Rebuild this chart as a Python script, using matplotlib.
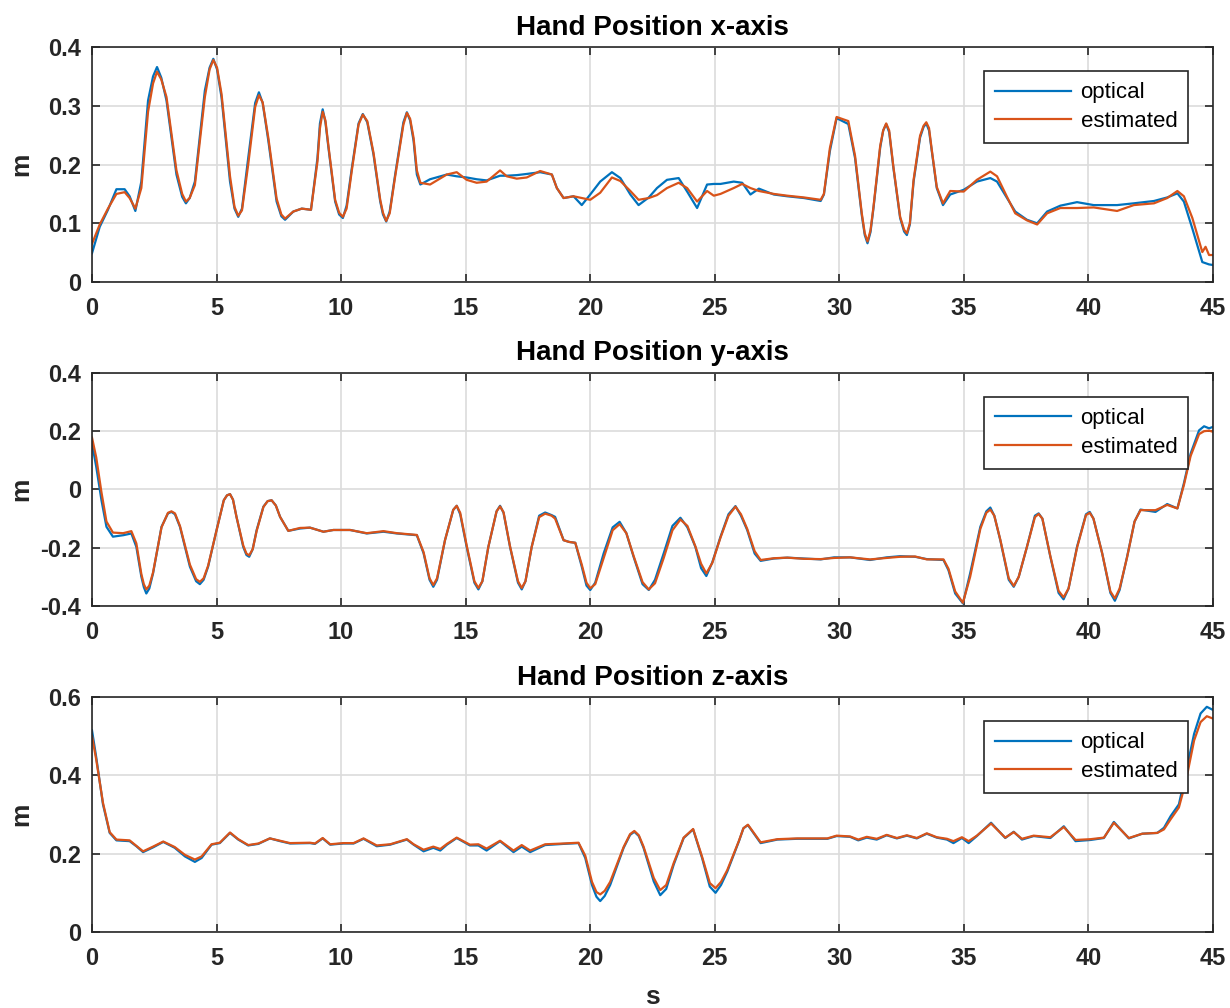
import matplotlib
matplotlib.use("Agg")
import matplotlib.pyplot as plt

# ---- data (time in s, position in m) ----
t_x = [0.00, 0.31, 0.64, 0.98, 1.31, 1.51, 1.74, 1.98, 2.25, 2.45, 2.61, 2.78, 2.99, 3.39, 3.62,
       3.77, 3.92, 4.13, 4.53, 4.72, 4.87, 5.02, 5.20, 5.54, 5.72, 5.87, 6.02, 6.27, 6.55, 6.70,
       6.85, 7.08, 7.41, 7.60, 7.75, 8.08, 8.42, 8.79, 9.05, 9.15, 9.26, 9.37, 9.49, 9.76, 9.92,
       10.07, 10.22, 10.43, 10.70, 10.87, 11.05, 11.30, 11.57, 11.68, 11.81, 11.95, 12.17, 12.50,
       12.64, 12.77, 12.91, 13.04, 13.18, 13.57, 14.24, 14.64, 15.04, 15.44, 15.84, 16.38, 16.65,
       17.05, 17.45, 17.99, 18.46, 18.66, 18.93, 19.33, 19.66, 20.00, 20.40, 20.87, 21.21, 21.61,
       21.94, 22.35, 22.68, 23.08, 23.55, 23.89, 24.29, 24.69, 24.96, 25.23, 25.76, 26.10, 26.43,
       26.77, 27.37, 27.91, 28.58, 29.25, 29.38, 29.62, 29.89, 30.36, 30.63, 30.90, 31.02, 31.13,
       31.25, 31.37, 31.64, 31.76, 31.88, 32.00, 32.17, 32.44, 32.60, 32.71, 32.83, 32.98, 33.24,
       33.38, 33.49, 33.60, 33.71, 33.91, 34.16, 34.45, 34.99, 35.52, 36.06, 36.33, 36.73, 37.06,
       37.53, 37.94, 38.34, 38.87, 39.54, 40.21, 41.15, 41.82, 42.63, 43.16, 43.57, 43.83, 44.17,
       44.57, 44.70, 44.84, 45.00]
x_optical = [0.049, 0.094, 0.123, 0.158, 0.158, 0.146, 0.121, 0.171, 0.309, 0.350, 0.366, 0.348,
             0.309, 0.183, 0.145, 0.134, 0.143, 0.171, 0.326, 0.365, 0.380, 0.362, 0.314, 0.171,
             0.125, 0.111, 0.125, 0.211, 0.305, 0.323, 0.305, 0.240, 0.137, 0.112, 0.106, 0.120,
             0.125, 0.123, 0.211, 0.270, 0.294, 0.272, 0.229, 0.137, 0.115, 0.109, 0.130, 0.194,
             0.270, 0.286, 0.272, 0.217, 0.137, 0.115, 0.103, 0.120, 0.183, 0.272, 0.289, 0.275,
             0.240, 0.183, 0.166, 0.175, 0.183, 0.180, 0.178, 0.175, 0.173, 0.181, 0.181, 0.182,
             0.184, 0.187, 0.183, 0.160, 0.143, 0.146, 0.131, 0.149, 0.171, 0.187, 0.177, 0.149,
             0.131, 0.144, 0.160, 0.174, 0.177, 0.154, 0.126, 0.166, 0.167, 0.167, 0.171, 0.169,
             0.149, 0.159, 0.149, 0.146, 0.143, 0.138, 0.149, 0.223, 0.279, 0.269, 0.211, 0.114,
             0.080, 0.066, 0.085, 0.126, 0.229, 0.258, 0.269, 0.255, 0.194, 0.109, 0.086, 0.080,
             0.098, 0.171, 0.246, 0.264, 0.270, 0.258, 0.223, 0.160, 0.131, 0.149, 0.157, 0.171,
             0.177, 0.171, 0.143, 0.120, 0.106, 0.100, 0.120, 0.130, 0.136, 0.131, 0.131, 0.134,
             0.138, 0.144, 0.151, 0.137, 0.091, 0.034, 0.032, 0.030, 0.029]
x_estimated = [0.065, 0.098, 0.125, 0.150, 0.153, 0.143, 0.125, 0.160, 0.290, 0.338, 0.358, 0.345,
               0.315, 0.190, 0.150, 0.137, 0.143, 0.165, 0.315, 0.362, 0.378, 0.365, 0.320, 0.180,
               0.128, 0.113, 0.122, 0.200, 0.298, 0.318, 0.306, 0.245, 0.142, 0.115, 0.108, 0.120,
               0.125, 0.123, 0.205, 0.262, 0.290, 0.275, 0.232, 0.140, 0.118, 0.111, 0.125, 0.190,
               0.268, 0.285, 0.274, 0.220, 0.140, 0.118, 0.104, 0.117, 0.180, 0.268, 0.288, 0.278,
               0.245, 0.190, 0.169, 0.166, 0.183, 0.187, 0.174, 0.169, 0.171, 0.190, 0.180, 0.176,
               0.178, 0.189, 0.183, 0.160, 0.143, 0.146, 0.143, 0.140, 0.152, 0.178, 0.172, 0.155,
               0.140, 0.143, 0.148, 0.160, 0.169, 0.160, 0.137, 0.155, 0.147, 0.150, 0.160, 0.167,
               0.160, 0.155, 0.150, 0.147, 0.144, 0.140, 0.150, 0.228, 0.281, 0.274, 0.215, 0.117,
               0.083, 0.069, 0.088, 0.128, 0.232, 0.258, 0.270, 0.258, 0.196, 0.111, 0.089, 0.083,
               0.100, 0.174, 0.249, 0.266, 0.272, 0.262, 0.225, 0.162, 0.134, 0.155, 0.154, 0.174,
               0.188, 0.180, 0.145, 0.117, 0.105, 0.098, 0.117, 0.126, 0.126, 0.127, 0.121, 0.131,
               0.134, 0.143, 0.155, 0.146, 0.109, 0.051, 0.060, 0.046, 0.046]

t_y = [0.00, 0.17, 0.38, 0.58, 0.84, 1.25, 1.58, 1.78, 1.98, 2.08, 2.18, 2.30, 2.45, 2.79, 3.05,
       3.19, 3.33, 3.53, 3.93, 4.18, 4.33, 4.48, 4.66, 5.00, 5.29, 5.42, 5.54, 5.66, 5.80, 6.07,
       6.20, 6.31, 6.45, 6.61, 6.88, 7.05, 7.21, 7.38, 7.55, 7.88, 8.35, 8.75, 9.29, 9.69, 10.36,
       11.03, 11.70, 12.24, 13.04, 13.31, 13.55, 13.70, 13.85, 14.17, 14.50, 14.64, 14.78, 15.04,
       15.35, 15.51, 15.67, 15.91, 16.24, 16.38, 16.52, 16.78, 17.10, 17.25, 17.40, 17.65, 17.95,
       18.19, 18.45, 18.59, 18.93, 19.15, 19.40, 19.66, 19.85, 20.00, 20.20, 20.54, 20.90, 21.18,
       21.45, 21.74, 22.10, 22.35, 22.60, 22.95, 23.30, 23.62, 23.90, 24.22, 24.45, 24.66, 24.90,
       25.23, 25.55, 25.83, 26.05, 26.30, 26.60, 26.84, 27.37, 27.91, 28.58, 29.25, 29.79, 30.43,
       31.23, 31.90, 32.44, 33.04, 33.51, 34.18, 34.38, 34.65, 34.96, 35.25, 35.66, 35.90, 36.06,
       36.22, 36.46, 36.80, 37.00, 37.20, 37.53, 37.85, 38.00, 38.15, 38.47, 38.80, 39.00, 39.20,
       39.54, 39.90, 40.05, 40.20, 40.55, 40.88, 41.06, 41.25, 41.55, 41.85, 42.09, 42.69, 43.16,
       43.57, 43.83, 44.10, 44.44, 44.64, 44.84, 45.00]
y_optical = [0.158, 0.078, -0.037, -0.128, -0.162, -0.157, -0.151, -0.197, -0.299, -0.335, -0.357,
             -0.340, -0.288, -0.128, -0.082, -0.077, -0.085, -0.128, -0.265, -0.315, -0.325, -0.310,
             -0.265, -0.139, -0.037, -0.020, -0.016, -0.035, -0.094, -0.197, -0.225, -0.231, -0.205,
             -0.139, -0.059, -0.040, -0.037, -0.055, -0.094, -0.142, -0.134, -0.131, -0.145, -0.139,
             -0.139, -0.151, -0.145, -0.151, -0.157, -0.219, -0.310, -0.334, -0.310, -0.174, -0.070,
             -0.056, -0.085, -0.197, -0.320, -0.343, -0.315, -0.197, -0.075, -0.056, -0.080, -0.197,
             -0.320, -0.343, -0.315, -0.197, -0.090, -0.079, -0.088, -0.094, -0.174, -0.180, -0.183,
             -0.265, -0.330, -0.345, -0.320, -0.219, -0.130, -0.111, -0.150, -0.231, -0.325, -0.345,
             -0.310, -0.219, -0.125, -0.097, -0.130, -0.197, -0.270, -0.297, -0.250, -0.162, -0.085,
             -0.057, -0.090, -0.139, -0.220, -0.245, -0.237, -0.234, -0.237, -0.240, -0.233, -0.233,
             -0.242, -0.233, -0.229, -0.231, -0.239, -0.242, -0.277, -0.357, -0.391, -0.288, -0.128,
             -0.075, -0.062, -0.090, -0.174, -0.310, -0.334, -0.300, -0.197, -0.090, -0.082, -0.100,
             -0.231, -0.355, -0.377, -0.340, -0.197, -0.085, -0.077, -0.100, -0.219, -0.355, -0.382,
             -0.345, -0.231, -0.110, -0.069, -0.077, -0.050, -0.065, 0.021, 0.123, 0.203, 0.217,
             0.210, 0.215]
y_estimated = [0.178, 0.110, -0.010, -0.110, -0.148, -0.150, -0.143, -0.185, -0.290, -0.325, -0.343,
               -0.330, -0.285, -0.130, -0.080, -0.075, -0.082, -0.125, -0.258, -0.308, -0.317, -0.305,
               -0.262, -0.140, -0.037, -0.020, -0.016, -0.035, -0.094, -0.192, -0.220, -0.226, -0.205,
               -0.142, -0.060, -0.040, -0.037, -0.055, -0.094, -0.142, -0.132, -0.131, -0.145, -0.139,
               -0.139, -0.150, -0.143, -0.150, -0.156, -0.215, -0.305, -0.328, -0.305, -0.174, -0.070,
               -0.056, -0.080, -0.192, -0.315, -0.338, -0.315, -0.197, -0.075, -0.058, -0.078, -0.195,
               -0.315, -0.338, -0.315, -0.197, -0.095, -0.083, -0.090, -0.100, -0.174, -0.180, -0.183,
               -0.258, -0.320, -0.339, -0.325, -0.235, -0.140, -0.119, -0.150, -0.228, -0.318, -0.343,
               -0.322, -0.235, -0.140, -0.103, -0.125, -0.195, -0.255, -0.288, -0.252, -0.165, -0.090,
               -0.059, -0.085, -0.135, -0.212, -0.242, -0.236, -0.234, -0.238, -0.239, -0.235, -0.233,
               -0.240, -0.235, -0.231, -0.230, -0.240, -0.240, -0.272, -0.350, -0.389, -0.300, -0.135,
               -0.080, -0.069, -0.090, -0.172, -0.305, -0.331, -0.300, -0.197, -0.095, -0.084, -0.100,
               -0.229, -0.348, -0.370, -0.340, -0.200, -0.088, -0.080, -0.100, -0.219, -0.350, -0.374,
               -0.340, -0.233, -0.110, -0.071, -0.071, -0.053, -0.065, 0.015, 0.115, 0.190, 0.200,
               0.202, 0.198]

t_z = [0.00, 0.17, 0.44, 0.71, 0.98, 1.51, 1.78, 2.05, 2.45, 2.86, 3.32, 3.73, 4.13, 4.40, 4.80,
       5.13, 5.54, 5.87, 6.27, 6.68, 7.14, 7.55, 7.95, 8.75, 8.95, 9.26, 9.56, 10.09, 10.50, 10.90,
       11.43, 11.97, 12.64, 12.91, 13.31, 13.70, 13.98, 14.25, 14.64, 15.17, 15.51, 15.84, 16.38,
       16.92, 17.25, 17.59, 18.19, 18.93, 19.53, 19.80, 20.07, 20.25, 20.40, 20.58, 20.80, 21.34,
       21.60, 21.77, 21.95, 22.14, 22.55, 22.81, 23.05, 23.35, 23.75, 24.13, 24.49, 24.80, 25.03,
       25.25, 25.50, 25.97, 26.15, 26.33, 26.84, 27.51, 28.31, 29.52, 29.89, 30.43, 30.76, 31.10,
       31.50, 31.90, 32.31, 32.71, 33.11, 33.51, 33.91, 34.32, 34.58, 34.92, 35.19, 35.52, 36.09,
       36.66, 37.00, 37.33, 37.80, 38.47, 39.01, 39.48, 40.08, 40.62, 41.02, 41.62, 42.16, 42.76,
       43.03, 43.30, 43.63, 43.90, 44.24, 44.50, 44.75, 45.00]
z_optical = [0.515, 0.446, 0.326, 0.253, 0.234, 0.232, 0.219, 0.204, 0.216, 0.230, 0.215, 0.193,
             0.179, 0.189, 0.223, 0.227, 0.253, 0.236, 0.221, 0.225, 0.239, 0.232, 0.226, 0.227,
             0.225, 0.239, 0.223, 0.226, 0.226, 0.238, 0.219, 0.223, 0.236, 0.223, 0.206, 0.215,
             0.208, 0.223, 0.240, 0.221, 0.221, 0.208, 0.232, 0.204, 0.218, 0.204, 0.222, 0.225,
             0.227, 0.189, 0.120, 0.090, 0.079, 0.092, 0.120, 0.215, 0.248, 0.256, 0.245, 0.215,
             0.129, 0.094, 0.110, 0.172, 0.240, 0.262, 0.189, 0.116, 0.100, 0.120, 0.154, 0.232,
             0.265, 0.273, 0.227, 0.236, 0.238, 0.238, 0.245, 0.243, 0.234, 0.241, 0.236, 0.247,
             0.239, 0.246, 0.239, 0.251, 0.241, 0.236, 0.227, 0.240, 0.227, 0.245, 0.279, 0.240,
             0.256, 0.236, 0.245, 0.240, 0.270, 0.232, 0.235, 0.240, 0.281, 0.239, 0.251, 0.253,
             0.266, 0.296, 0.326, 0.403, 0.506, 0.558, 0.575, 0.567]
z_estimated = [0.500, 0.440, 0.330, 0.255, 0.236, 0.234, 0.220, 0.206, 0.218, 0.231, 0.217, 0.197,
               0.185, 0.193, 0.224, 0.228, 0.254, 0.237, 0.222, 0.226, 0.239, 0.233, 0.227, 0.228,
               0.226, 0.240, 0.224, 0.227, 0.227, 0.239, 0.221, 0.224, 0.237, 0.224, 0.210, 0.218,
               0.212, 0.225, 0.241, 0.223, 0.224, 0.213, 0.233, 0.208, 0.222, 0.208, 0.224, 0.226,
               0.228, 0.195, 0.128, 0.102, 0.096, 0.105, 0.128, 0.217, 0.250, 0.258, 0.247, 0.218,
               0.138, 0.107, 0.120, 0.176, 0.241, 0.263, 0.192, 0.125, 0.112, 0.128, 0.158, 0.233,
               0.265, 0.274, 0.229, 0.237, 0.239, 0.239, 0.246, 0.244, 0.236, 0.243, 0.238, 0.248,
               0.240, 0.247, 0.240, 0.252, 0.242, 0.238, 0.232, 0.242, 0.232, 0.246, 0.277, 0.241,
               0.255, 0.238, 0.246, 0.242, 0.268, 0.235, 0.237, 0.241, 0.279, 0.240, 0.251, 0.253,
               0.262, 0.288, 0.318, 0.382, 0.489, 0.536, 0.551, 0.545]

titles = ["Hand Position x-axis", "Hand Position y-axis", "Hand Position z-axis"]
ylims = [(0, 0.4), (-0.4, 0.4), (0, 0.6)]
yticks = [[0, 0.1, 0.2, 0.3, 0.4], [-0.4, -0.2, 0, 0.2, 0.4], [0, 0.2, 0.4, 0.6]]
ytick_labels = [["0", "0.1", "0.2", "0.3", "0.4"], ["-0.4", "-0.2", "0", "0.2", "0.4"],
                ["0", "0.2", "0.4", "0.6"]]
xticks = [0, 5, 10, 15, 20, 25, 30, 35, 40, 45]

BLUE = "#0072BD"
ORANGE = "#D95319"
DARK = "#262626"

plt.rcParams["font.family"] = ["Liberation Sans", "DejaVu Sans"]

fig = plt.figure(figsize=(12.3, 10.08), dpi=100)
# axes boxes in figure fraction (left, bottom, width, height)
boxes = [(0.0748, 0.7202, 0.9114, 0.2331),
         (0.0748, 0.3988, 0.9114, 0.2312),
         (0.0748, 0.0754, 0.9114, 0.2331)]
series = [(t_x, x_optical, x_estimated), (t_y, y_optical, y_estimated), (t_z, z_optical, z_estimated)]

for i, (box, (t, opt, est)) in enumerate(zip(boxes, series)):
    ax = fig.add_axes(box)
    ax.plot(t, opt, color=BLUE, lw=1.6, label="optical")
    ax.plot(t, est, color=ORANGE, lw=1.6, label="estimated")
    ax.set_xlim(0, 45)
    ax.set_ylim(*ylims[i])
    ax.set_xticks(xticks)
    ax.set_xticklabels([str(v) for v in xticks], fontweight="bold", fontsize=17, color=DARK)
    ax.set_yticks(yticks[i])
    ax.set_yticklabels(ytick_labels[i], fontweight="bold", fontsize=17, color=DARK)
    ax.tick_params(direction="in", length=6, width=1.2, top=True, right=True, color=DARK)
    ax.tick_params(axis="x", pad=11)
    ax.tick_params(axis="y", pad=8)
    ax.grid(True, color="#dcdcdc", lw=1.2)
    ax.set_axisbelow(True)
    for sp in ax.spines.values():
        sp.set_color(DARK)
        sp.set_linewidth(1.2)
    ax.set_title(titles[i], fontsize=20, fontweight="bold", pad=9)
    ax.set_ylabel("m", fontsize=19, fontweight="bold", color=DARK)
    ax.yaxis.set_label_coords(-0.052, 0.5)
    leg = ax.legend(loc="upper right", bbox_to_anchor=(0.978, 0.897), borderaxespad=0,
                    fontsize=16, handlelength=3.4, handletextpad=0.45, labelspacing=0.35,
                    borderpad=0.5, fancybox=False, framealpha=1)
    leg.get_frame().set_edgecolor(DARK)
    leg.get_frame().set_linewidth(1.2)
    if i == 2:
        ax.set_xlabel("s", fontsize=19, fontweight="bold", color=DARK)
        ax.xaxis.set_label_coords(0.5, -0.225)

fig.savefig("out.png", dpi=100)
